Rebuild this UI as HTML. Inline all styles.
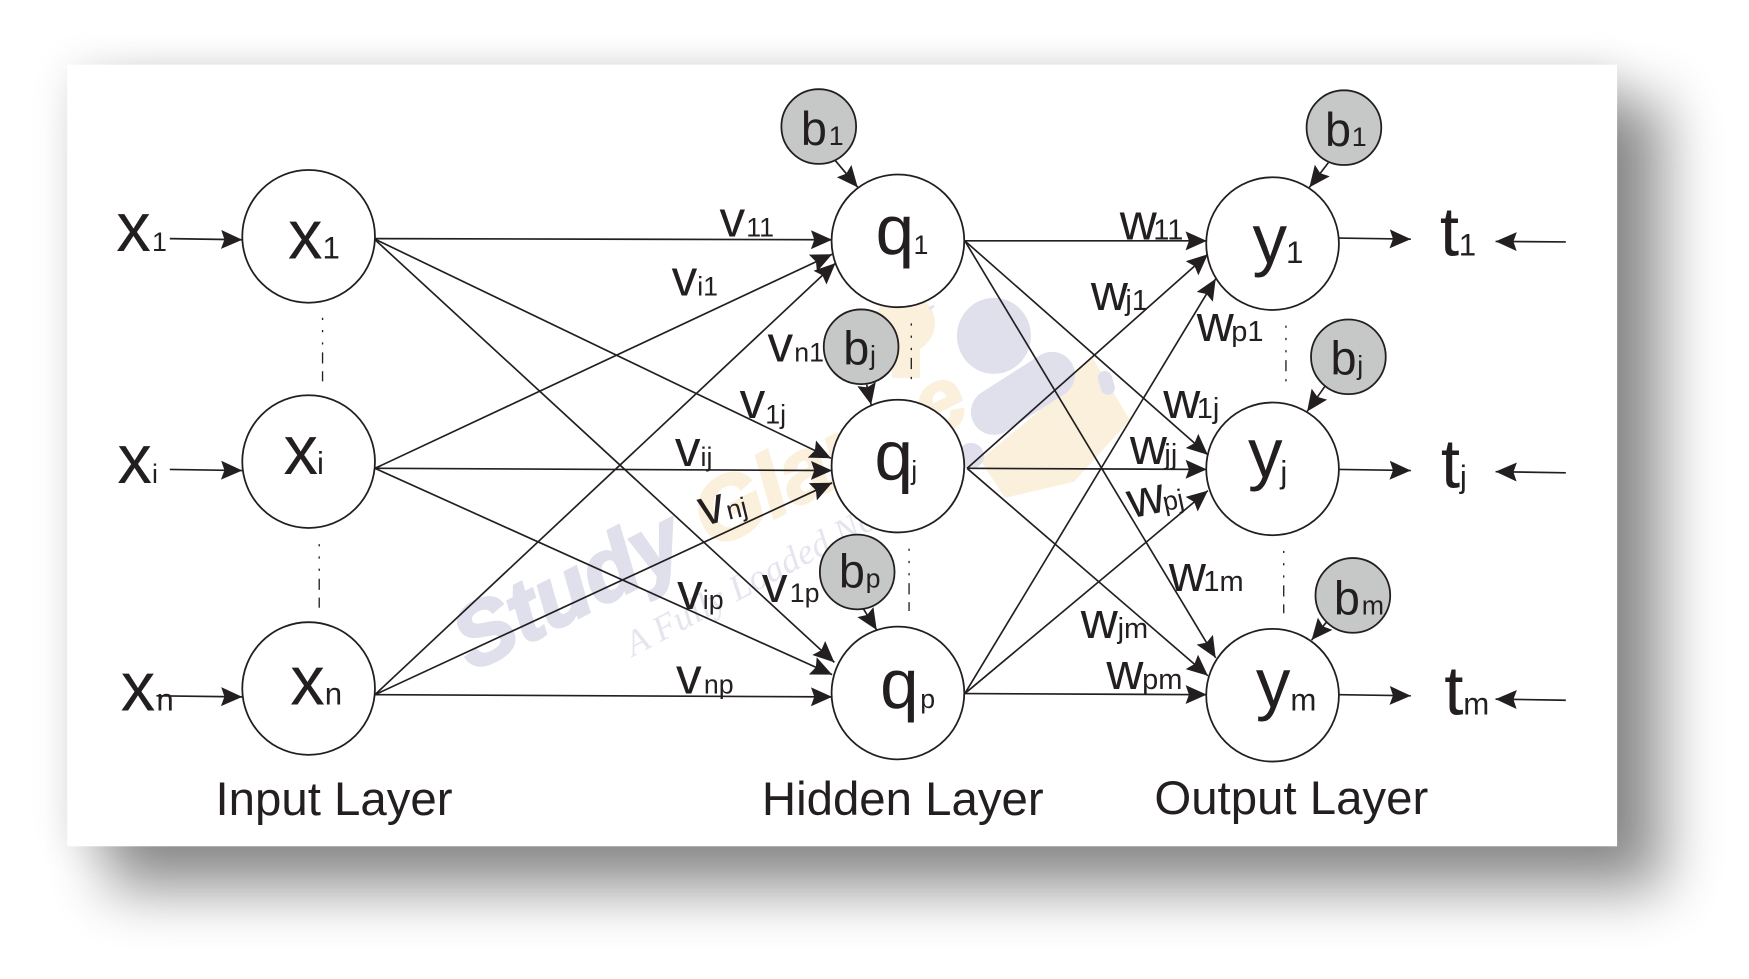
<!DOCTYPE html>
<html><head><meta charset="utf-8"><style>
html,body{margin:0;padding:0;background:#fff;width:1749px;height:979px;overflow:hidden}
svg{display:block}
text{font-family:"Liberation Sans",Arial,sans-serif;fill:#231f20}
.L{font-size:62px}.M{font-size:46px}.B{font-size:42px}.T{font-size:42.5px}
.s{font-size:24px}.S{font-size:28px}.w{font-size:26px}
circle.n{fill:#fff;stroke:#231f20;stroke-width:1.6}
circle.g{fill:#c6c8c7;stroke:#231f20;stroke-width:1.6}
.e line{stroke:#231f20;stroke-width:1.5;marker-end:url(#a)}
.d line{stroke:#231f20;stroke-width:1.2;stroke-dasharray:2 9 2 9 2 7 10 7 10 7}
</style></head><body>
<svg width="1749" height="979" viewBox="0 0 1568 878" xmlns="http://www.w3.org/2000/svg">
<defs>
<marker id="a" markerUnits="userSpaceOnUse" markerWidth="20" markerHeight="18" refX="19" refY="8.5" orient="auto" viewBox="0 0 20 18"><path d="M0 0L19 8.5L0 17L3 8.5Z" fill="#231f20"/></marker>
<filter id="f1" x="-20%" y="-20%" width="140%" height="140%"><feGaussianBlur stdDeviation="26"/></filter>
<filter id="f2" x="-20%" y="-20%" width="140%" height="140%"><feGaussianBlur stdDeviation="18"/></filter>
</defs>
<rect x="60" y="58" width="1390" height="701" fill="#000" opacity=".1" filter="url(#f2)"/>
<rect x="96" y="90" width="1396" height="708" fill="#000" opacity=".43" filter="url(#f1)"/>
<rect x="60" y="58" width="1390" height="701" fill="#fff"/>

<g transform="scale(.8965)">
<polygon points="1092,357 1130,420 1074,482 1005,498 980,460 1037,413" fill="#faf0dc"/>
<circle cx="905" cy="323" r="30" fill="#faf0dc"/>
<rect x="892" y="340" width="28" height="38" fill="#faf0dc"/>
<g stroke="#e3e3ee" stroke-width="3"><line x1="884" y1="289" x2="888" y2="296"/><line x1="913" y1="287" x2="910" y2="294"/><line x1="934" y1="306" x2="929" y2="309"/></g>
<ellipse cx="994" cy="336" rx="37" ry="38" fill="#e0dfec"/>
<line x1="1052" y1="375" x2="994" y2="412" stroke="#e0dfec" stroke-width="46" stroke-linecap="round"/>
<line x1="1105" y1="378" x2="1108" y2="388" stroke="#e0dfec" stroke-width="14" stroke-linecap="round"/>
<circle cx="971" cy="456" r="13" fill="#e0dfec"/>
<text transform="translate(712,550) rotate(-27)" style="font-size:88px;font-weight:bold;font-style:italic;fill:#faf0dc;stroke:#faf0dc;stroke-width:3">Glance</text>
<text transform="translate(472,672) rotate(-27)" style="font-size:88px;font-weight:bold;font-style:italic;fill:#e0e0ed;stroke:#e0e0ed;stroke-width:3">Study</text>
<text transform="translate(633,657) rotate(-28)" textLength="376" style="font-family:'Liberation Serif',serif;font-size:36px;font-style:italic;fill:#e5e5f0">A Fully Loaded Notebook</text>
</g>

<g class="d">
<line x1="289" y1="285" x2="289" y2="342"/><line x1="286" y1="488" x2="286" y2="545"/>
<line x1="817" y1="290" x2="817" y2="340"/><line x1="815" y1="492" x2="815" y2="548"/>
<line x1="1153" y1="292" x2="1153" y2="342"/><line x1="1151" y1="494" x2="1151" y2="550"/>
</g>

<g class="e">
<line x1="335" y1="214" x2="746" y2="215"/>
<line x1="335" y1="214" x2="745" y2="411"/>
<line x1="335" y1="214" x2="748" y2="594"/>
<line x1="336" y1="420" x2="746" y2="228"/>
<line x1="336" y1="420" x2="746" y2="422"/>
<line x1="336" y1="420" x2="746" y2="605"/>
<line x1="336" y1="623" x2="749" y2="236"/>
<line x1="336" y1="623" x2="746" y2="433"/>
<line x1="336" y1="623" x2="746" y2="625"/>
<line x1="865" y1="216" x2="1082" y2="216"/>
<line x1="865" y1="216" x2="1083" y2="408"/>
<line x1="865" y1="216" x2="1090" y2="590"/>
<line x1="867" y1="420" x2="1083" y2="228"/>
<line x1="867" y1="420" x2="1082" y2="421"/>
<line x1="867" y1="420" x2="1083" y2="606"/>
<line x1="865" y1="622" x2="1090" y2="250"/>
<line x1="865" y1="622" x2="1083" y2="440"/>
<line x1="865" y1="622" x2="1082" y2="623"/>
<line x1="152" y1="214" x2="217" y2="215"/>
<line x1="152" y1="421" x2="217" y2="422"/>
<line x1="140" y1="624" x2="217" y2="625"/>
<line x1="1201" y1="213.5" x2="1265" y2="214.5"/>
<line x1="1201" y1="421" x2="1265" y2="422"/>
<line x1="1201" y1="623" x2="1265" y2="624"/>
<line x1="1404" y1="217" x2="1341" y2="216.5"/>
<line x1="1404" y1="424" x2="1341" y2="423"/>
<line x1="1404" y1="628" x2="1341" y2="627"/>
<line x1="748" y1="143" x2="769" y2="168"/>
<line x1="777" y1="345" x2="781" y2="363"/>
<line x1="774" y1="546" x2="786" y2="565"/>
<line x1="1191" y1="146" x2="1174" y2="168"/>
<line x1="1189" y1="345" x2="1172" y2="369"/>
<line x1="1191" y1="556" x2="1176" y2="574"/>
</g>

<circle class="n" cx="276.5" cy="212" r="59.5"/><circle class="n" cx="276.5" cy="414" r="59.5"/><circle class="n" cx="276.5" cy="617.5" r="59.5"/>
<circle class="n" cx="805" cy="216" r="59.5"/><circle class="n" cx="805" cy="418" r="59.5"/><circle class="n" cx="805" cy="621.5" r="59.5"/>
<circle class="n" cx="1141" cy="218.5" r="59.5"/><circle class="n" cx="1141" cy="420.5" r="59.5"/><circle class="n" cx="1141" cy="623.5" r="59.5"/>
<circle class="g" cx="734" cy="113.5" r="33.5"/><circle class="g" cx="772" cy="311" r="33.5"/><circle class="g" cx="768.5" cy="513" r="33.5"/>
<circle class="g" cx="1205" cy="114.5" r="33.5"/><circle class="g" cx="1209" cy="320" r="33.5"/><circle class="g" cx="1213" cy="534" r="33.5"/>

<text class="L" x="104" y="225">x</text><text class="s" x="136" y="225">1</text>
<text class="L" x="105" y="433">x</text><text class="s" x="136" y="433">i</text>
<text class="L" x="108" y="637">x</text><text class="S" x="140" y="637">n</text>
<text class="L" x="258" y="232">x</text><text class="S" x="289" y="232">1</text>
<text class="L" x="254" y="425">x</text><text class="S" x="284" y="425">i</text>
<text class="L" x="260" y="632">x</text><text class="S" x="291" y="632">n</text>
<text class="L" x="785" y="228">q</text><text class="s" x="819" y="228">1</text>
<text class="L" x="784" y="430">q</text><text class="s" x="817" y="430">j</text>
<text class="L" x="789" y="635">q</text><text class="s" x="825" y="635">p</text>
<text class="L" x="1123" y="236">y</text><text class="S" x="1153" y="236">1</text>
<text class="L" x="1119" y="428">y</text><text class="S" x="1148" y="433">j</text>
<text class="L" x="1126" y="634">y</text><text class="S" x="1157" y="637">m</text>
<text class="L" x="1291" y="229">t</text><text class="S" x="1308" y="229">1</text>
<text class="L" x="1292" y="437">t</text><text class="S" x="1309" y="437">j</text>
<text class="L" x="1295" y="641">t</text><text class="S" x="1312" y="641">m</text>

<text class="B" x="718" y="130">b</text><text class="s" x="743" y="130">1</text>
<text class="B" x="756" y="327">b</text><text class="s" x="780" y="327">j</text>
<text class="B" x="752" y="527">b</text><text class="s" x="776" y="527">p</text>
<text class="B" x="1188" y="131">b</text><text class="s" x="1212" y="131">1</text>
<text class="B" x="1193" y="336">b</text><text class="s" x="1217" y="336">j</text>
<text class="B" x="1196" y="551">b</text><text class="s" x="1221" y="551">m</text>

<text class="M" x="645" y="212">v</text><text class="s" x="669" y="212">11</text>
<text class="M" x="602" y="265">v</text><text class="s" x="625" y="265">i1</text>
<text class="M" x="688" y="324">v</text><text class="s" x="712" y="324">n1</text>
<text class="M" x="663" y="375">v</text><text class="s" x="686" y="380">1j</text>
<text class="M" x="605" y="418">v</text><text class="s" x="628" y="418">ij</text>
<g transform="translate(630,472) rotate(-14)"><text class="M">v</text><text class="s" x="24">nj</text></g>
<text class="M" x="607" y="546">v</text><text class="s" x="630" y="546">ip</text>
<text class="M" x="683" y="540">v</text><text class="s" x="708" y="540">1p</text>
<text class="M" x="606" y="622">v</text><text class="s" x="631" y="622">np</text>

<text class="M" x="1004" y="215">w</text><text class="w" x="1034" y="215">11</text>
<text class="M" x="978" y="278">w</text><text class="w" x="1009" y="278">j1</text>
<text class="M" x="1073" y="306">w</text><text class="w" x="1104" y="306">p1</text>
<text class="M" x="1043" y="375">w</text><text class="w" x="1073" y="375">1j</text>
<text class="M" x="1013" y="416">w</text><text class="w" x="1044" y="416">jj</text>
<g transform="translate(1014,465) rotate(-12)"><text class="M">w</text><text class="s" x="31">pj</text></g>
<text class="M" x="1048" y="530">w</text><text class="w" x="1079" y="530">1m</text>
<text class="M" x="969" y="572">w</text><text class="w" x="1002" y="572">jm</text>
<text class="M" x="992" y="618">w</text><text class="w" x="1024" y="618">pm</text>

<text class="T" x="193" y="731">Input Layer</text>
<text class="T" x="683" y="731">Hidden Layer</text>
<text class="T" x="1035" y="730">Output Layer</text>
</svg>
</body></html>
